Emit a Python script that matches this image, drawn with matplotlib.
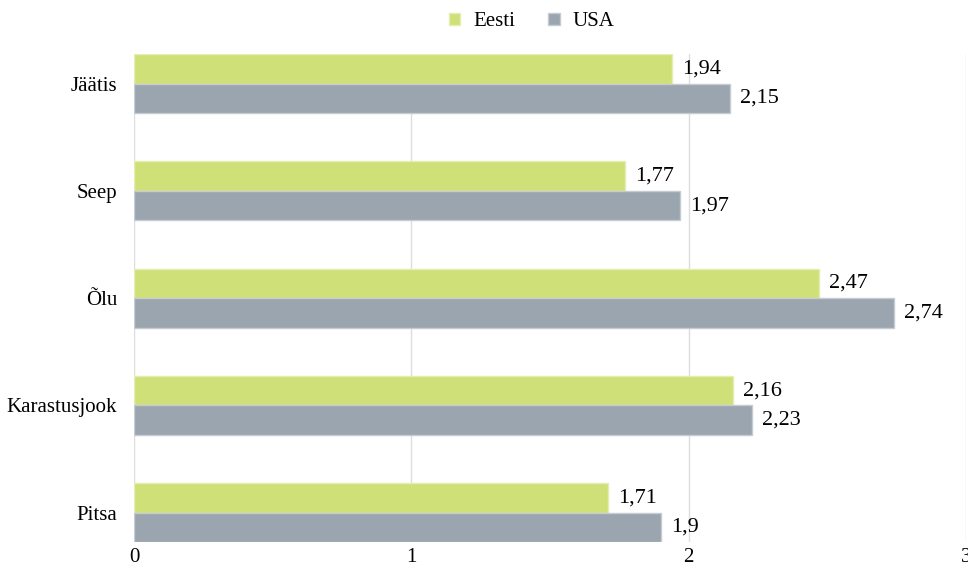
import matplotlib.pyplot as plt
import numpy as np

categories = ["Jäätis", "Seep", "Õlu", "Karastusjook", "Pitsa"]
eesti = [1.94, 1.77, 2.47, 2.16, 1.71]
usa = [2.15, 1.97, 2.74, 2.23, 1.90]
series_names = ["Eesti", "USA"]
colors = ["#d0e078", "#9aa5af"]
edge_colors = ["#e4eeb0", "#c4cbd2"]


def fmt(v):
    return ("%.2f" % v).rstrip("0").rstrip(".").replace(".", ",")


plt.rcParams["font.family"] = ["Liberation Serif", "DejaVu Serif"]

fig = plt.figure(figsize=(9.68, 5.70), dpi=100)
ax = fig.add_axes([0.1384, 0.049, 0.998 - 0.1384, 0.856])

y = np.arange(len(categories))
h = 0.275
for i, (vals, name) in enumerate(zip([eesti, usa], series_names)):
    pos = y - h / 2 + i * h
    bars = ax.barh(pos, vals, height=h, color=colors[i], edgecolor=edge_colors[i],
                   linewidth=1, label=name, zorder=2)
    for b, v in zip(bars, vals):
        ax.annotate(fmt(v), (v, b.get_y() + b.get_height() / 2), xytext=(7, 0),
                    textcoords="offset points", va="center", ha="left", fontsize=16)

ax.set_xlim(0, 3)
ax.set_ylim(len(categories) - 1 + h, -h)
ax.set_xticks([0, 1, 2, 3])
ax.set_xticklabels(["0", "1", "2", "3"])
ax.set_yticks(y)
ax.set_yticklabels(categories)
ax.tick_params(axis="both", length=0, labelsize=15)
ax.tick_params(axis="y", pad=12)
ax.tick_params(axis="x", pad=4)
ax.grid(axis="x", color="#dddddd", linewidth=1, zorder=0)
ax.set_axisbelow(True)
for s in ax.spines.values():
    s.set_visible(False)

fig.legend(loc="center", bbox_to_anchor=(0.549, 0.962), ncol=2, frameon=False,
           fontsize=15, handlelength=0.55, handleheight=0.55, columnspacing=1.6,
           handletextpad=0.6)

fig.savefig("out.png", dpi=100)
